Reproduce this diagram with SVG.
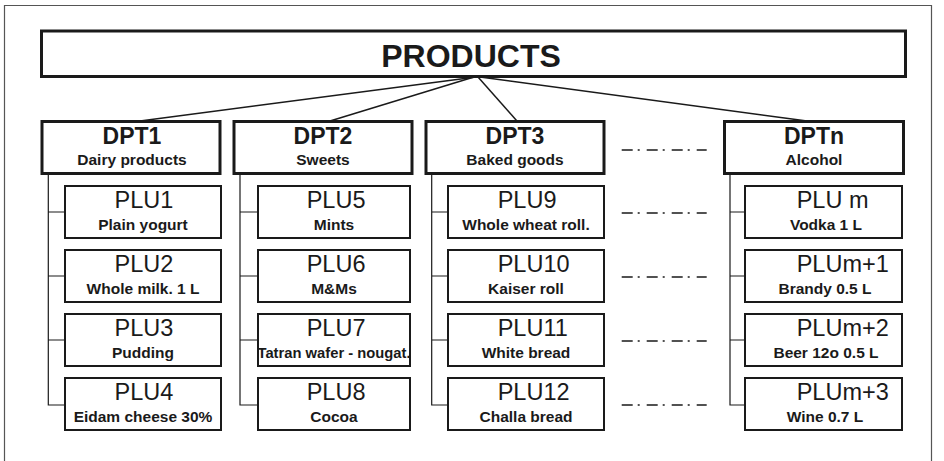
<svg xmlns="http://www.w3.org/2000/svg" width="944" height="461" viewBox="0 0 944 461">
<style>
  .frame{fill:none;stroke:#555;stroke-width:1.2}
  .top{fill:#fff;stroke:#1a1a1a;stroke-width:3}
  .dpt{fill:#fff;stroke:#1a1a1a;stroke-width:3}
  .plu{fill:#fff;stroke:#1a1a1a;stroke-width:2}
  .conn{fill:none;stroke:#1a1a1a;stroke-width:1.5}
  .tree{fill:none;stroke:#1a1a1a;stroke-width:1.2}
  .dd{fill:none;stroke:#1a1a1a;stroke-width:1.6;stroke-dasharray:11 5 2 7}
  text{font-family:"Liberation Sans",Arial,sans-serif;fill:#1a1a1a}
  .title{font-size:32px;font-weight:bold;text-anchor:middle}
  .dn{font-size:23px;font-weight:bold;text-anchor:middle}
  .sub{font-size:15.5px;font-weight:bold;text-anchor:middle}
  .pn{font-size:23.5px}
</style>
<path class="frame" d="M4.5,461 V5.5 H931.5 V461"/>
<g id="products">
  <rect class="top" x="41.5" y="31" width="864" height="45.5"/>
  <text class="title" x="471" y="67">PRODUCTS</text>
</g>
<g id="connectors">
  <line class="conn" x1="476" y1="77" x2="140" y2="121"/>
  <line class="conn" x1="474" y1="77" x2="330" y2="121"/>
  <line class="conn" x1="478" y1="77" x2="517" y2="121"/>
  <line class="conn" x1="480" y1="77" x2="807" y2="121"/>
  <path class="tree" d="M48.3,175 V405 H65 M48.3,212 H65 M48.3,276 H65 M48.3,340 H65"/>
  <path class="tree" d="M240,175 V405 H258 M240,212 H258 M240,276 H258 M240,340 H258"/>
  <path class="tree" d="M431.7,175 V405 H448 M431.7,212 H448 M431.7,276 H448 M431.7,340 H448"/>
  <path class="tree" d="M730,175 V405 H745 M730,212 H745 M730,276 H745 M730,340 H745"/>
  <line class="dd" x1="621.7" y1="150" x2="706.7" y2="150"/>
  <line class="dd" x1="621.7" y1="213" x2="706.7" y2="213"/>
  <line class="dd" x1="621.7" y1="277" x2="706.7" y2="277"/>
  <line class="dd" x1="621.7" y1="341" x2="706.7" y2="341"/>
  <line class="dd" x1="621.7" y1="405" x2="706.7" y2="405"/>
</g>
<g id="dpt1">
  <rect class="dpt" x="42" y="121.5" width="178" height="52"/>
  <text class="dn" x="132" y="144">DPT1</text>
  <text class="sub" x="132" y="165">Dairy products</text>
</g>
<g id="dpt2">
  <rect class="dpt" x="234" y="121.5" width="178" height="52"/>
  <text class="dn" x="323" y="144">DPT2</text>
  <text class="sub" x="323" y="165">Sweets</text>
</g>
<g id="dpt3">
  <rect class="dpt" x="426" y="121.5" width="178" height="52"/>
  <text class="dn" x="515" y="144">DPT3</text>
  <text class="sub" x="515" y="165">Baked goods</text>
</g>
<g id="dptn">
  <rect class="dpt" x="724.5" y="121.5" width="179" height="52"/>
  <text class="dn" x="814" y="144">DPTn</text>
  <text class="sub" x="814" y="165">Alcohol</text>
</g>
<g id="plu1"><rect class="plu" x="65" y="186" width="156" height="52"/><text class="pn" x="114.5" y="208">PLU1</text><text class="sub" x="143" y="230">Plain yogurt</text></g>
<g id="plu2"><rect class="plu" x="65" y="250" width="156" height="52"/><text class="pn" x="114.5" y="272">PLU2</text><text class="sub" x="143" y="294">Whole milk. 1 L</text></g>
<g id="plu3"><rect class="plu" x="65" y="314" width="156" height="52"/><text class="pn" x="114.5" y="336">PLU3</text><text class="sub" x="143" y="358">Pudding</text></g>
<g id="plu4"><rect class="plu" x="65" y="378" width="156" height="52"/><text class="pn" x="114.5" y="400">PLU4</text><text class="sub" x="143" y="422">Eidam cheese 30%</text></g>
<g id="plu5"><rect class="plu" x="258" y="186" width="152" height="52"/><text class="pn" x="306.7" y="208">PLU5</text><text class="sub" x="334" y="230">Mints</text></g>
<g id="plu6"><rect class="plu" x="258" y="250" width="152" height="52"/><text class="pn" x="306.7" y="272">PLU6</text><text class="sub" x="334" y="294">M&amp;Ms</text></g>
<g id="plu7"><rect class="plu" x="258" y="314" width="152" height="52"/><text class="pn" x="306.7" y="336">PLU7</text><text class="sub" x="334" y="358" textLength="153" lengthAdjust="spacingAndGlyphs">Tatran wafer - nougat.</text></g>
<g id="plu8"><rect class="plu" x="258" y="378" width="152" height="52"/><text class="pn" x="306.7" y="400">PLU8</text><text class="sub" x="334" y="422">Cocoa</text></g>
<g id="plu9"><rect class="plu" x="448" y="186" width="156" height="52"/><text class="pn" x="497.7" y="208">PLU9</text><text class="sub" x="526" y="230">Whole wheat roll.</text></g>
<g id="plu10"><rect class="plu" x="448" y="250" width="156" height="52"/><text class="pn" x="497.7" y="272">PLU10</text><text class="sub" x="526" y="294">Kaiser roll</text></g>
<g id="plu11"><rect class="plu" x="448" y="314" width="156" height="52"/><text class="pn" x="497.7" y="336">PLU11</text><text class="sub" x="526" y="358">White bread</text></g>
<g id="plu12"><rect class="plu" x="448" y="378" width="156" height="52"/><text class="pn" x="497.7" y="400">PLU12</text><text class="sub" x="526" y="422">Challa bread</text></g>
<g id="plum"><rect class="plu" x="745" y="186" width="157" height="52"/><text class="pn" x="796.7" y="208">PLU m</text><text class="sub" x="826" y="230">Vodka 1 L</text></g>
<g id="plum1"><rect class="plu" x="745" y="250" width="157" height="52"/><text class="pn" x="796.7" y="272">PLUm+1</text><text class="sub" x="825" y="294">Brandy 0.5 L</text></g>
<g id="plum2"><rect class="plu" x="745" y="314" width="157" height="52"/><text class="pn" x="796.7" y="336">PLUm+2</text><text class="sub" x="826" y="358">Beer 12o 0.5 L</text></g>
<g id="plum3"><rect class="plu" x="745" y="378" width="157" height="52"/><text class="pn" x="796.7" y="400">PLUm+3</text><text class="sub" x="825" y="422">Wine 0.7 L</text></g>
</svg>
